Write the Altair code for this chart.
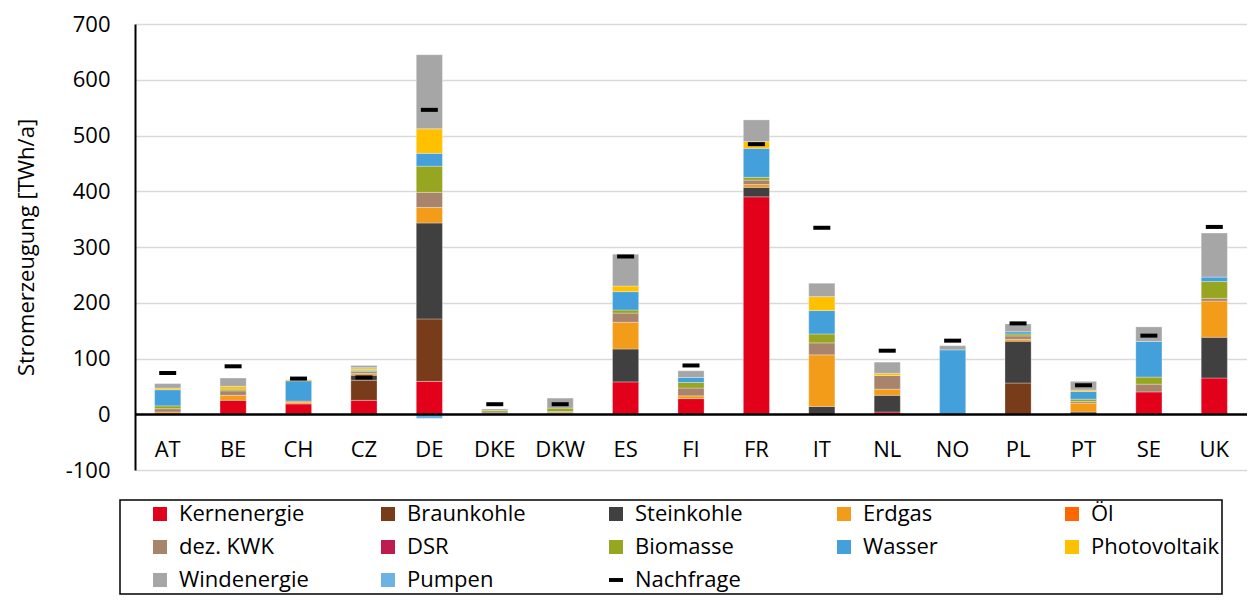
import altair as alt
import pandas as pd

countries = ["AT", "BE", "CH", "CZ", "DE", "DKE", "DKW", "ES", "FI", "FR",
             "IT", "NL", "NO", "PL", "PT", "SE", "UK"]

kernenergie  = [0, 25, 18.5, 25, 59, 0, 0, 58, 28, 390, 0, 4, 0, 0, 0, 40, 65]
braunkohle   = [0, 0, 0, 36, 112, 0, 0, 0, 0, 0, 0, 0, 0, 56, 0, 0, 0]
steinkohle   = [0, 0, 0, 9, 172, 0, 0, 59, 0, 17, 14, 30, 0, 75, 4, 0, 73]
erdgas       = [4, 9, 3, 3, 28, 1, 2, 48, 5, 5, 92.5, 11, 0, 3.5, 16, 0, 65]
oel          = [0, 0, 2, 0, 0, 0, 1, 0, 0, 0, 0, 0, 0, 0, 0, 0, 0]
dez_kwk      = [6, 8, 0, 3.5, 27, 3, 2, 16.5, 14, 8, 21.5, 24.5, 0, 6, 3, 14, 5]
dsr          = [0, 0, 0, 0, 0, 0, 0, 0, 0, 0, 0, 0, 0, 0, 0, 0, 0]
biomasse     = [5, 3, 0, 2, 47, 3, 6, 5.5, 10, 5, 16, 0, 0, 3.5, 4, 12.7, 30]
wasser       = [29, 0, 36.5, 2, 23, 0, 0, 33, 9, 52, 42, 0, 115.5, 4, 14, 64, 8]
photovoltaik = [3, 5, 2, 3, 44, 0, 0, 10, 0, 12, 25, 4, 0, 0, 2.5, 0, 0]
windenergie  = [8, 15, 0, 4, 133, 2.5, 18, 57, 12, 39, 24, 20, 7.5, 14, 15.5, 26, 79]
pumpen       = [0, 0, 0, 0, -7.5, 0, 0, 0, 0, 0, 0, 0, 0, 0, 0, 0, 0]
nachfrage    = [74, 86, 64, 66, 546, 18, 18, 283, 87.5, 484.5, 334.5, 114, 132, 163, 52, 141, 336]

series_names = ["Kernenergie", "Braunkohle", "Steinkohle", "Erdgas", "Öl",
                "dez. KWK", "DSR", "Biomasse", "Wasser", "Photovoltaik",
                "Windenergie", "Pumpen"]
series_values = [kernenergie, braunkohle, steinkohle, erdgas, oel, dez_kwk,
                 dsr, biomasse, wasser, photovoltaik, windenergie, pumpen]
series_colors = ["#E2001A", "#783C1A", "#404040", "#F39C19", "#FF6600",
                 "#A9846C", "#BE1B4F", "#96A620", "#44A0DA", "#FFC000",
                 "#A6A6A6", "#6BB3E3"]

legend_domain = series_names + ["Nachfrage"]
legend_range = series_colors + ["#000000"]

rows = []
for i, (name, vals) in enumerate(zip(series_names, series_values)):
    for c, v in zip(countries, vals):
        rows.append({"Land": c, "Typ": name, "Wert": v, "idx": i})
bars_df = pd.DataFrame(rows)
demand_df = pd.DataFrame({"Land": countries, "Wert": nachfrage,
                          "Typ": ["Nachfrage"] * len(countries)})

FONT = "Open Sans"

x_enc = alt.X("Land:N", sort=countries, title=None,
              scale=alt.Scale(paddingInner=0.6, paddingOuter=0.3),
              axis=alt.Axis(orient="bottom", offset=-56, domainColor="#000000",
                            domainWidth=2.5, ticks=False, labelAngle=0,
                            labelFont=FONT, labelFontSize=22, labelColor="#000000",
                            labelPadding=35, labelBaseline="middle", zindex=1))

y_scale = alt.Scale(domain=[-100, 700], nice=False)

color_enc = alt.Color("Typ:N",
                      scale=alt.Scale(domain=legend_domain, range=legend_range),
                      legend=alt.Legend(
                          orient="none", legendX=-15, legendY=476,
                          direction="horizontal", columns=5, title=None,
                          symbolType={"expr": "datum.value === 'Nachfrage' ? 'M-1,-0.28H1V0.28H-1Z' : 'square'"},
                          symbolSize=196,
                          symbolStrokeWidth=0, symbolOpacity=1,
                          labelFont=FONT, labelFontSize=22, labelColor="#000000",
                          labelOffset=8, labelLimit=400,
                          gridAlign="all", columnPadding=42, rowPadding=11,
                          padding=3, symbolOffset=26,
                          strokeColor="#000000"))

bars = alt.Chart(bars_df).transform_filter("datum.Wert != 0").mark_bar(
    stroke="#FFFFFF", strokeWidth=0.6, strokeOpacity=0.5
).encode(
    x=x_enc,
    y=alt.Y("Wert:Q", stack="zero", scale=y_scale,
            title="Stromerzeugung [TWh/a]",
            axis=alt.Axis(values=list(range(-100, 701, 100)), grid=True,
                          gridColor="#D9D9D9", gridWidth=1.5,
                          domainColor="#000000", domainWidth=2,
                          ticks=False, tickSize=0, labelPadding=25,
                          labelExpr="'' + datum.value",
                          labelFont=FONT, labelFontSize=22, labelColor="#000000",
                          titleFont=FONT, titleFontSize=22, titleFontWeight="normal",
                          titleColor="#000000", titlePadding=27)),
    color=color_enc,
    order=alt.Order("idx:Q", sort="ascending"),
)

demand = alt.Chart(demand_df).mark_tick(thickness=4, size=17, opacity=1).encode(
    x=alt.X("Land:N", sort=countries),
    y=alt.Y("Wert:Q", scale=y_scale),
    color=alt.Color("Typ:N"),
)

chart = alt.layer(bars, demand).properties(
    width=1112, height=446,
    padding={"left": 7, "top": 5, "right": 0, "bottom": 0},
).configure_view(stroke=None).configure_legend(strokeWidth=1.5)

chart.save("out.html", embed_options={"renderer": "svg", "actions": False})
